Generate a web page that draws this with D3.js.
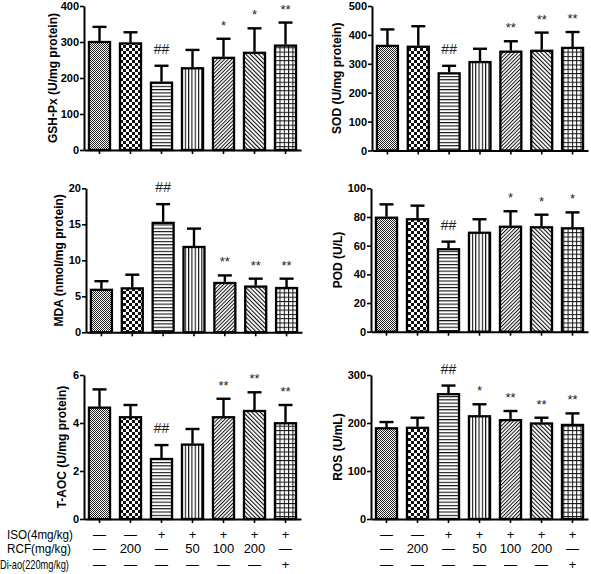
<!DOCTYPE html>
<html><head><meta charset="utf-8">
<script src="https://cdn.jsdelivr.net/npm/d3@7"></script>
<style>body{margin:0;background:#fff}svg{display:block;font-family:"Liberation Sans",Arial,sans-serif}</style>
</head><body>
<svg id="c" width="591" height="574"></svg>
<script>
// ---- data ----
const groups = [0,1,2,3,4,5,6];
const isoRow  = ["—","—","+","+","+","+","+"];
const rcfRow  = ["—","200","—","50","100","200","—"];
const diaoRow = ["—","—","—","—","—","—","+"];
const rowLabels = ["ISO(4mg/kg)","RCF(mg/kg)","Di-ao(220mg/kg)"];

const gshMean = [300, 296, 187, 227, 256, 270, 290];
const gshSD   = [42, 31, 47, 51, 53, 68, 64];
const gshSig  = ["","","##","","*","*","**"];
const gshTicks = [0,100,200,300,400];

const sodMean = [362, 359, 267, 306, 342, 345, 355];
const sodSD   = [57, 71, 26, 46, 36, 63, 55];
const sodSig  = ["","","##","","**","**","**"];
const sodTicks = [0,100,200,300,400,500];

const mdaMean = [5.9, 6.1, 15.2, 11.85, 6.85, 6.35, 6.15];
const mdaSD   = [1.2, 1.9, 2.6, 2.55, 1.05, 1.1, 1.3];
const mdaSig  = ["","","##","","**","**","**"];
const mdaTicks = [0,5,10,15,20];

const podMean = [79.5, 78.4, 57.5, 69.0, 73.2, 72.8, 72.1];
const podSD   = [9.3, 9.5, 5.3, 9.4, 10.8, 8.8, 11.1];
const podSig  = ["","","##","","*","*","*"];
const podTicks = [0,20,40,60,80,100];

const taocMean = [4.64, 4.24, 2.5, 3.1, 4.24, 4.5, 3.99];
const taocSD   = [0.76, 0.51, 0.58, 0.65, 0.77, 0.78, 0.76];
const taocSig  = ["","","##","","**","**","**"];
const taocTicks = [0,2,4,6];

const rosMean = [189, 190, 260, 214, 206, 199, 196];
const rosSD   = [13, 21, 18, 25, 19, 12, 24];
const rosSig  = ["","","##","*","**","**","**"];
const rosTicks = [0,100,200,300];

const patterns = ["p0","p1","p2","p3","p4","p5","p6"];

// ---- patterns ----
const svg = d3.select("#c");
const defs = svg.append("defs");
function pat(id, w, h) {
  const p = defs.append("pattern").attr("id", id).attr("patternUnits","userSpaceOnUse")
    .attr("width", w).attr("height", h);
  p.append("rect").attr("width", w).attr("height", h).attr("fill","#fff");
  return p;
}
// fine checker
{ const p = pat("p0", 2, 2);
  p.append("rect").attr("width",1).attr("height",1).attr("fill","#222");
  p.append("rect").attr("x",1).attr("y",1).attr("width",1).attr("height",1).attr("fill","#222"); }
// coarse checker
{ const p = pat("p1", 6, 6);
  p.append("rect").attr("width",3).attr("height",3).attr("fill","#111");
  p.append("rect").attr("x",3).attr("y",3).attr("width",3).attr("height",3).attr("fill","#111"); }
// horizontal lines
{ const p = pat("p2", 4, 3.3);
  p.append("rect").attr("y",0).attr("width",4).attr("height",1.1).attr("fill","#111"); }
// vertical lines
{ const p = pat("p3", 3.3, 4);
  p.append("rect").attr("x",0).attr("width",1.1).attr("height",4).attr("fill","#111"); }
// diagonal /
{ const p = defs.append("pattern").attr("id","p4").attr("patternUnits","userSpaceOnUse")
    .attr("width",2.6).attr("height",2.6).attr("patternTransform","rotate(45)");
  p.append("rect").attr("width",2.6).attr("height",2.6).attr("fill","#fff");
  p.append("rect").attr("width",1.0).attr("height",2.6).attr("fill","#111"); }
// diagonal \
{ const p = defs.append("pattern").attr("id","p5").attr("patternUnits","userSpaceOnUse")
    .attr("width",3).attr("height",3).attr("patternTransform","rotate(-45)");
  p.append("rect").attr("width",3).attr("height",3).attr("fill","#fff");
  p.append("rect").attr("width",1.1).attr("height",3).attr("fill","#111"); }
// grid
{ const p = pat("p6", 4.3, 4.3);
  p.append("rect").attr("width",4.3).attr("height",1).attr("fill","#111");
  p.append("rect").attr("width",1).attr("height",4.3).attr("fill","#111"); }

// ---- panels ----
const panels = [
  {label:"GSH-Px (U/mg protein)", mean:gshMean, sd:gshSD, sig:gshSig, ticks:gshTicks, x0:84,  x1:301, yTop:6,     yBot:150,   lx:53},
  {label:"SOD (U/mg protein)",    mean:sodMean, sd:sodSD, sig:sodSig, ticks:sodTicks, x0:372, x1:588, yTop:6,     yBot:150.5, lx:337},
  {label:"MDA (nmol/mg protein)", mean:mdaMean, sd:mdaSD, sig:mdaSig, ticks:mdaTicks, x0:86,  x1:302, yTop:188.3, yBot:332.3, lx:59},
  {label:"POD (U/L)",             mean:podMean, sd:podSD, sig:podSig, ticks:podTicks, x0:371, x1:588, yTop:188.3, yBot:331.7, lx:338},
  {label:"T-AOC (U/mg protein)",  mean:taocMean,sd:taocSD,sig:taocSig,ticks:taocTicks,x0:84,  x1:301, yTop:375,   yBot:519,   lx:62},
  {label:"ROS (U/mL)",            mean:rosMean, sd:rosSD, sig:rosSig, ticks:rosTicks, x0:371, x1:588, yTop:375,   yBot:519,   lx:338},
];

const xScales = [];
panels.forEach((P, pi) => {
  const x = d3.scaleBand().domain(groups).range([P.x0, P.x1]).paddingInner(0.32).paddingOuter(0.16);
  const y = d3.scaleLinear().domain([0, d3.max(P.ticks)]).range([P.yBot, P.yTop]);
  xScales.push(x);
  const g = svg.append("g");

  // bars
  g.selectAll("rect.bar").data(groups).join("rect").attr("class","bar")
    .attr("x", i => x(i)).attr("width", x.bandwidth())
    .attr("y", i => y(P.mean[i])).attr("height", i => y(0) - y(P.mean[i]))
    .attr("fill", i => `url(#${patterns[i]})`)
    .attr("stroke","#000").attr("stroke-width",2.3);

  // error bars (upper only)
  const cap = 14;
  g.selectAll("line.err").data(groups).join("line").attr("class","err")
    .attr("x1", i => x(i) + x.bandwidth()/2).attr("x2", i => x(i) + x.bandwidth()/2)
    .attr("y1", i => y(P.mean[i]) - 1).attr("y2", i => y(P.mean[i] + P.sd[i]))
    .attr("stroke","#000").attr("stroke-width",2.4);
  g.selectAll("line.cap").data(groups).join("line").attr("class","cap")
    .attr("x1", i => x(i) + x.bandwidth()/2 - cap/2).attr("x2", i => x(i) + x.bandwidth()/2 + cap/2)
    .attr("y1", i => y(P.mean[i] + P.sd[i])).attr("y2", i => y(P.mean[i] + P.sd[i]))
    .attr("stroke","#000").attr("stroke-width",2.4);

  // significance marks
  g.selectAll("text.sig").data(groups.filter(i => P.sig[i])).join("text").attr("class","sig")
    .attr("x", i => x(i) + x.bandwidth()/2)
    .attr("y", i => {
      const c = y(P.mean[i] + P.sd[i]) - 17;
      return P.sig[i].startsWith("#") ? c + 5 : c + 8;
    })
    .attr("text-anchor","middle")
    .attr("font-size", i => P.sig[i].startsWith("#") ? 14 : 13)
    .attr("fill","#222")
    .text(i => P.sig[i]);

  // y axis
  const ya = g.append("g").attr("transform", `translate(${P.x0},0)`)
    .call(d3.axisLeft(y).tickValues(P.ticks).tickFormat(d3.format("d"))
      .tickSize(4).tickPadding(1).tickSizeOuter(0));
  ya.select(".domain").attr("stroke","#000").attr("stroke-width",2);
  ya.selectAll(".tick line").attr("stroke","#000").attr("stroke-width",1.6);
  ya.selectAll(".tick text").attr("font-size",11).attr("font-weight","bold").attr("fill","#000")
    .attr("font-family","'Liberation Sans',Arial,sans-serif");

  // x axis
  const xa = g.append("g").attr("transform", `translate(0,${P.yBot})`)
    .call(d3.axisBottom(x).tickSize(4).tickSizeOuter(0).tickFormat(""));
  xa.select(".domain").attr("stroke","#000").attr("stroke-width",2);
  xa.selectAll(".tick line").attr("stroke","#000").attr("stroke-width",1.6);

  // y label
  g.append("text")
    .attr("transform", `translate(${P.lx},${(P.yTop + P.yBot)/2}) rotate(-90)`)
    .attr("text-anchor","middle").attr("dominant-baseline","central")
    .attr("font-size",12).attr("font-weight","bold").attr("fill","#000")
    .text(P.label);
});

// ---- treatment table ----
const rows = [isoRow, rcfRow, diaoRow];
const rowY = [539, 553, 569];
const labelX = [7, 7, 0];
const labelW = [66, 64, 69];
rows.forEach((row, r) => {
  const t = svg.append("text").attr("x", 0).attr("y", 0)
    .attr("font-size",13).attr("fill","#000").text(rowLabels[r]);
  const natural = t.node().getComputedTextLength();
  const sx = Math.min(1, labelW[r] / natural);
  t.attr("transform", `translate(${labelX[r]},${rowY[r]}) scale(${sx},1)`);
  [xScales[4], xScales[5]].forEach(x => {
    svg.append("g").selectAll("text").data(groups).join("text")
      .attr("x", i => x(i) + x.bandwidth()/2).attr("y", rowY[r])
      .attr("text-anchor","middle").attr("font-size",13).attr("fill","#000")
      .text(i => row[i]);
  });
});
</script>
</body></html>
